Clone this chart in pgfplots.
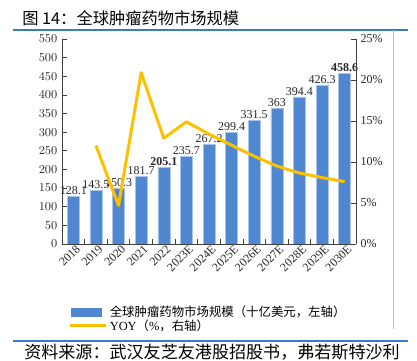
\documentclass[border=0pt]{standalone}
\usepackage{pgfplots}
\pgfplotsset{compat=1.18}
\usepackage{fontspec}
\setmainfont{Liberation Serif}
\newfontfamily\cjk{Noto Sans CJK SC}
\definecolor{barblue}{HTML}{4F88D0}
\definecolor{baredge}{HTML}{A9C4EB}
\definecolor{yoy}{HTML}{FFC000}
\definecolor{titleblue}{HTML}{3A7BC8}
\definecolor{axgray}{HTML}{404040}
\begin{document}
\begin{tikzpicture}
\useasboundingbox (0pt,0pt) rectangle (312.75pt,270pt);
\node[anchor=west,inner sep=0pt,font=\cjk\fontsize{12.2}{14}\selectfont] at (16.5pt,256.5pt) {图 14：全球肿瘤药物市场规模};
\draw[titleblue, line width=0.9pt] (9.75pt,247.5pt) -- (306pt,247.5pt);
\draw[black!25, line width=0.6pt] (294.75pt,247.5pt) -- (294.75pt,23.25pt);
\draw[titleblue, line width=0.9pt] (9.75pt,14.25pt) -- (306pt,14.25pt);
\node[anchor=west,inner sep=0pt,font=\cjk\fontsize{12.8}{14}\selectfont] at (18pt,6pt) {资料来源：武汉友芝友港股招股书，弗若斯特沙利};

\begin{axis}[
  at={(46.5pt,87pt)}, anchor=south west, scale only axis,
  width=220.5pt, height=153.75pt,
  xmin=-0.5, xmax=12.5, ymin=0, ymax=550,
  ytick={0,50,...,550},
  xtick={0,...,12},
  xticklabels={2018,2019,2020,2021,2022,2023E,2024E,2025E,2026E,2027E,2028E,2029E,2030E},
  x tick label style={rotate=45, anchor=north east, inner sep=1pt, xshift=2pt},
  tick label style={font=\fontsize{9}{10}\selectfont, text=black!85},
  major x tick style={draw=none},
  minor xtick={0.5,1.5,...,11.5},
  tick align=inside,
  major tick length=3.75pt, minor tick length=3.75pt,
  tick style={axgray, line width=0.6pt},
  axis x line*=bottom, axis y line*=left,
  axis line style={axgray, line width=0.7pt},
  legend style={at={(0.02,-0.29)}, anchor=north west, draw=none, fill=none,
    font=\fontsize{9.3}{10}\selectfont, inner sep=0pt, row sep=-3.5pt,
    legend cell align=left,
    nodes={inner xsep=2pt}},
]
\addplot[fill=barblue, draw=baredge, line width=0.4pt, ybar, bar width=9pt,
  nodes near coords, point meta=explicit symbolic,
  every node near coord/.style={font=\fontsize{9}{10}\selectfont, text=black!85, inner sep=1pt},
  legend image code/.code={\fill[barblue] (0pt,-3pt) rectangle (23pt,3pt);}]
coordinates {
(0,128.1) [128.1]
(1,143.5) [143.5]
(2,150.3) [150.3]
(3,181.7) [181.7]
(4,205.1) [\textbf{205.1}]
(5,235.7) [235.7]
(6,267.2) [267.2]
(7,299.4) [299.4]
(8,331.5) [331.5]
(9,363) [363]
(10,394.4) [394.4]
(11,426.3) [426.3]
(12,458.6) [\textbf{458.6}]
};
\addlegendentry{\cjk 全球肿瘤药物市场规模（十亿美元，左轴）}
\addlegendimage{legend image code/.code={\draw[yoy, line width=2.25pt] (-1pt,0pt) -- (26pt,0pt);}}
\addlegendentry{YOY{\cjk（}\%{\cjk，右轴）}}
\end{axis}

\begin{axis}[
  at={(46.5pt,87pt)}, anchor=south west, scale only axis,
  width=220.5pt, height=153.75pt,
  xmin=-0.5, xmax=12.5, ymin=0, ymax=25,
  ytick={0,5,...,25},
  yticklabel={\pgfmathprintnumber{\tick}\%},
  tick label style={font=\fontsize{9}{10}\selectfont, text=black!85},
  /pgf/number format/assume math mode=true,
  axis x line=none, axis y line*=right,
  tick align=inside, major tick length=3.75pt,
  tick style={axgray, line width=0.6pt},
  axis line style={axgray, line width=0.7pt},
]
\addplot[yoy, line width=2.25pt, line join=round, mark=none] coordinates {
(1,12.0) (2,4.7) (3,20.9) (4,12.9) (5,14.9) (6,13.4) (7,12.05) (8,10.7) (9,9.5) (10,8.65) (11,8.1) (12,7.6)
};
\end{axis}
\end{tikzpicture}
\end{document}
